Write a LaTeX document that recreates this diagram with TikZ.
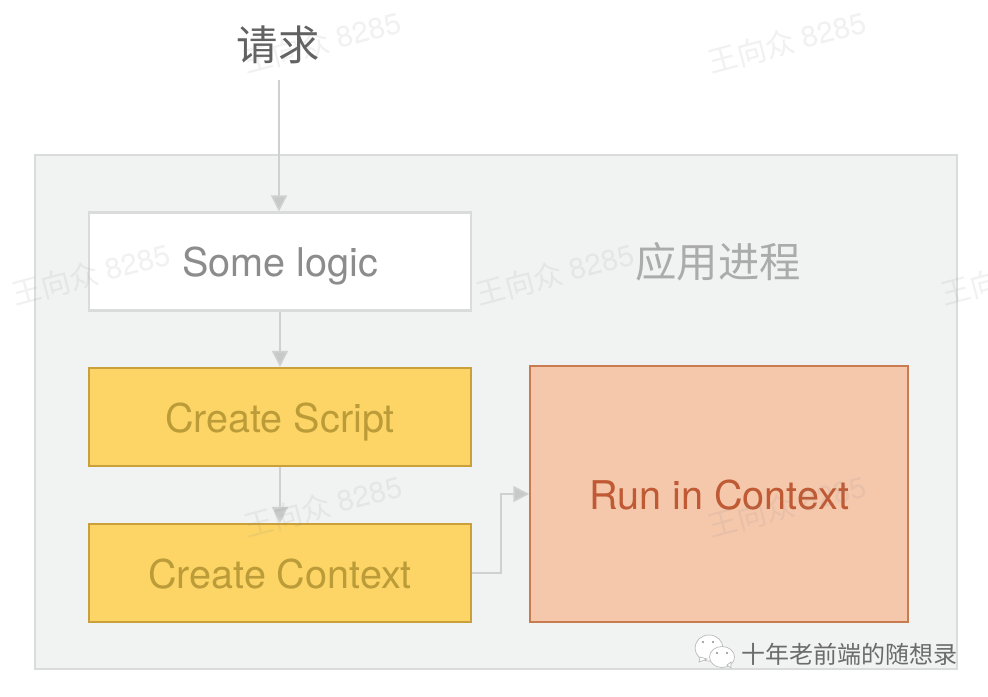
\documentclass[tikz,border=0pt]{standalone}
\usepackage{fontspec}
\setmainfont{TeX Gyre Heros}
\newfontfamily\cjk{Noto Sans CJK SC}
\usetikzlibrary{arrows.meta,calc}
\definecolor{panelfill}{HTML}{F1F2F2}
\definecolor{panelline}{HTML}{DADBDB}
\definecolor{wire}{HTML}{D0D0D0}
\definecolor{wirehead}{HTML}{C8C8C8}
\definecolor{yellowfill}{HTML}{FDD566}
\definecolor{yellowline}{HTML}{C9A03C}
\definecolor{yellowtext}{HTML}{BB9C38}
\definecolor{orangefill}{HTML}{F5C8AC}
\definecolor{orangeline}{HTML}{C97C50}
\definecolor{orangetext}{HTML}{BF5A34}
\tikzset{
  px/.style={x=0.75pt,y=-0.75pt},
  box/.style={rectangle,minimum width=286.5pt,minimum height=73.5pt,inner sep=0pt,line width=1.6pt,font=\fontsize{29.7}{34}\selectfont,text height=22.5pt,text depth=0pt,anchor=center},
  whitebox/.style={box,draw=panelline,fill=white,text=black!45},
  yellowbox/.style={box,draw=yellowline,fill=yellowfill,text=yellowtext},
  orangebox/.style={box,draw=orangeline,fill=orangefill,text=orangetext,minimum width=283pt,minimum height=192.5pt},
  wirearrow/.style={draw=wire,line width=1.2pt,-{Triangle[length=12pt,width=12pt,fill=wirehead]}},
  wm/.style={text=black!45,text opacity=0.12,rotate=15,font=\fontsize{22}{24}\selectfont,inner sep=0pt},
  title/.style={inner sep=0pt,font=\cjk\fontsize{31}{34}\selectfont}
}
\begin{document}
\begin{tikzpicture}[px]
\useasboundingbox (0,0) rectangle (988,696);
\clip (0,0) rectangle (988,696);
\fill[white] (0,0) rectangle (988,696);
\node[draw=panelline,fill=panelfill,line width=1.4pt,minimum width=692pt,minimum height=385.5pt,inner sep=0pt] (panel) at (496,412) {};
\node[whitebox] (logic) at (280,261.5) {Some logic};
\node[yellowbox] (script) at (280,417) {Create Script};
\node[yellowbox] (context) at (280,573) {Create Context};
\node[orangebox] (run) at (719,494) {Run in Context};
\node[title,text=black!62] (req) at (278,45) {请求};
\node[title,text=black!33] (proc) at (718,262) {应用进程};
\coordinate (reqout) at (279,80);
\draw[wirearrow] (reqout) -- (reqout |- logic.north);
\draw[wirearrow] (logic.south) -- (script.north);
\draw[wirearrow] (script.south) -- (context.north);
\draw[wirearrow] (context.east) -- ++(29,0) |- (run.west);
% watermarks
\foreach \n/\x/\y in {a/322/42,b/787/42,c/91/274,d/555/274,e/323/506,f/787/506,g/1020/274}
  \node[wm] (wm\n) at (\x,\y) {{\cjk 王向众} 8285};
% wechat mark
\begin{scope}[draw=black!28,line width=0.5pt,fill=white]
\filldraw (709,648) ellipse (14 and 13);
\filldraw (700,657) -- (699,662) -- (707,659) -- cycle;
\filldraw (722,657) ellipse (12.5 and 10.5);
\filldraw (727,665) -- (731,668) -- (731,662) -- cycle;
\end{scope}
\fill[black!45] (703,642) circle (1.2) (713,642) circle (1.2) (717,653) circle (1.2) (727,653) circle (1.2);
\node[inner sep=0pt,text=black!58,font=\cjk\fontsize{18}{20}\selectfont,anchor=west] (brand) at (741,654) {十年老前端的随想录};
\end{tikzpicture}
\end{document}
